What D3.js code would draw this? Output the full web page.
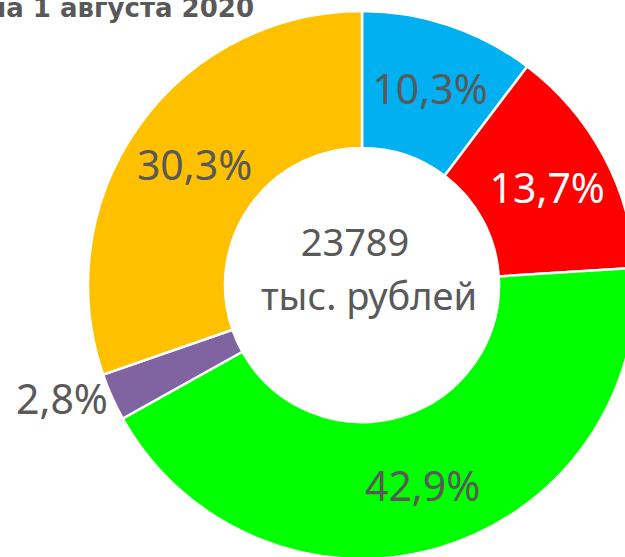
<!DOCTYPE html>
<html>
<head>
<meta charset="utf-8">
<script src="https://cdn.jsdelivr.net/npm/d3@7"></script>
<style>
  html, body { margin: 0; padding: 0; background: #fff; overflow: hidden; }
</style>
</head>
<body>
<div class="svg"></div>
<script>
const labels = ["10,3%", "13,7%", "42,9%", "2,8%", "30,3%"];
const values = [10.3, 13.7, 42.9, 2.8, 30.3];
const colors = ["#00B0F0", "#FF0000", "#00FF00", "#8064A2", "#FFC000"];
const labelColors = ["#595959", "#FFFFFF", "#595959", "#595959", "#595959"];
const title = "на 1 августа 2020";
const total = "23789";
const units = "тыс. рублей";

const w = 625;
const h = 557;
const cx = 362;
const cy = 285;
const outerR = 274;
const innerR = 137;

let svg = d3.select(".svg")
            .append("svg")
            .attr("width", w)
            .attr("height", h);

// title is cut off by the top-left edge, as in the source picture
svg.append("text")
   .text(title)
   .attr("x", 254)
   .attr("y", 17)
   .attr("text-anchor", "end")
   .attr("font-family", "DejaVu Sans, sans-serif")
   .attr("font-weight", "bold")
   .attr("font-size", 26)
   .attr("fill", "#595959");

let pie = d3.pie().sort(null).value(d => d);
let arcs = pie(values);
let arc = d3.arc().innerRadius(innerR).outerRadius(outerR);
let labelArc = d3.arc().innerRadius(208).outerRadius(208);

let g = svg.append("g").attr("transform", "translate(" + cx + "," + cy + ")");

g.selectAll(".slice")
 .data(arcs)
 .enter()
 .append("path")
 .attr("class", "slice")
 .attr("d", arc)
 .attr("fill", (d, i) => colors[i])
 .attr("stroke", "#fff")
 .attr("stroke-width", 2.5);

g.selectAll(".lbl")
 .data(arcs)
 .enter()
 .append("text")
 .attr("class", "lbl")
 .text((d, i) => labels[i])
 .attr("font-family", "Noto Sans, sans-serif")
 .attr("font-size", 41)
 .attr("fill", (d, i) => labelColors[i])
 .attr("dominant-baseline", "central")
 .attr("text-anchor", (d, i) => values[i] < 5 ? "end" : "middle")
 .attr("x", (d, i) => {
    if (values[i] < 5) {
      let a = (d.startAngle + d.endAngle) / 2;
      return Math.sin(a) * outerR - 4;
    }
    return labelArc.centroid(d)[0] + 2;
 })
 .attr("y", (d, i) => {
    if (values[i] < 5) {
      let a = (d.startAngle + d.endAngle) / 2;
      return -Math.cos(a) * outerR + 1;
    }
    return labelArc.centroid(d)[1];
 });

g.append("text")
 .text(total)
 .attr("x", -7)
 .attr("y", -44)
 .attr("text-anchor", "middle")
 .attr("dominant-baseline", "central")
 .attr("font-family", "Noto Sans, sans-serif")
 .attr("font-size", 38)
 .attr("fill", "#595959");

g.append("text")
 .text(units)
 .attr("x", 7)
 .attr("y", 10)
 .attr("text-anchor", "middle")
 .attr("dominant-baseline", "central")
 .attr("font-family", "Noto Sans, sans-serif")
 .attr("font-size", 38)
 .attr("fill", "#595959");
</script>
</body>
</html>
